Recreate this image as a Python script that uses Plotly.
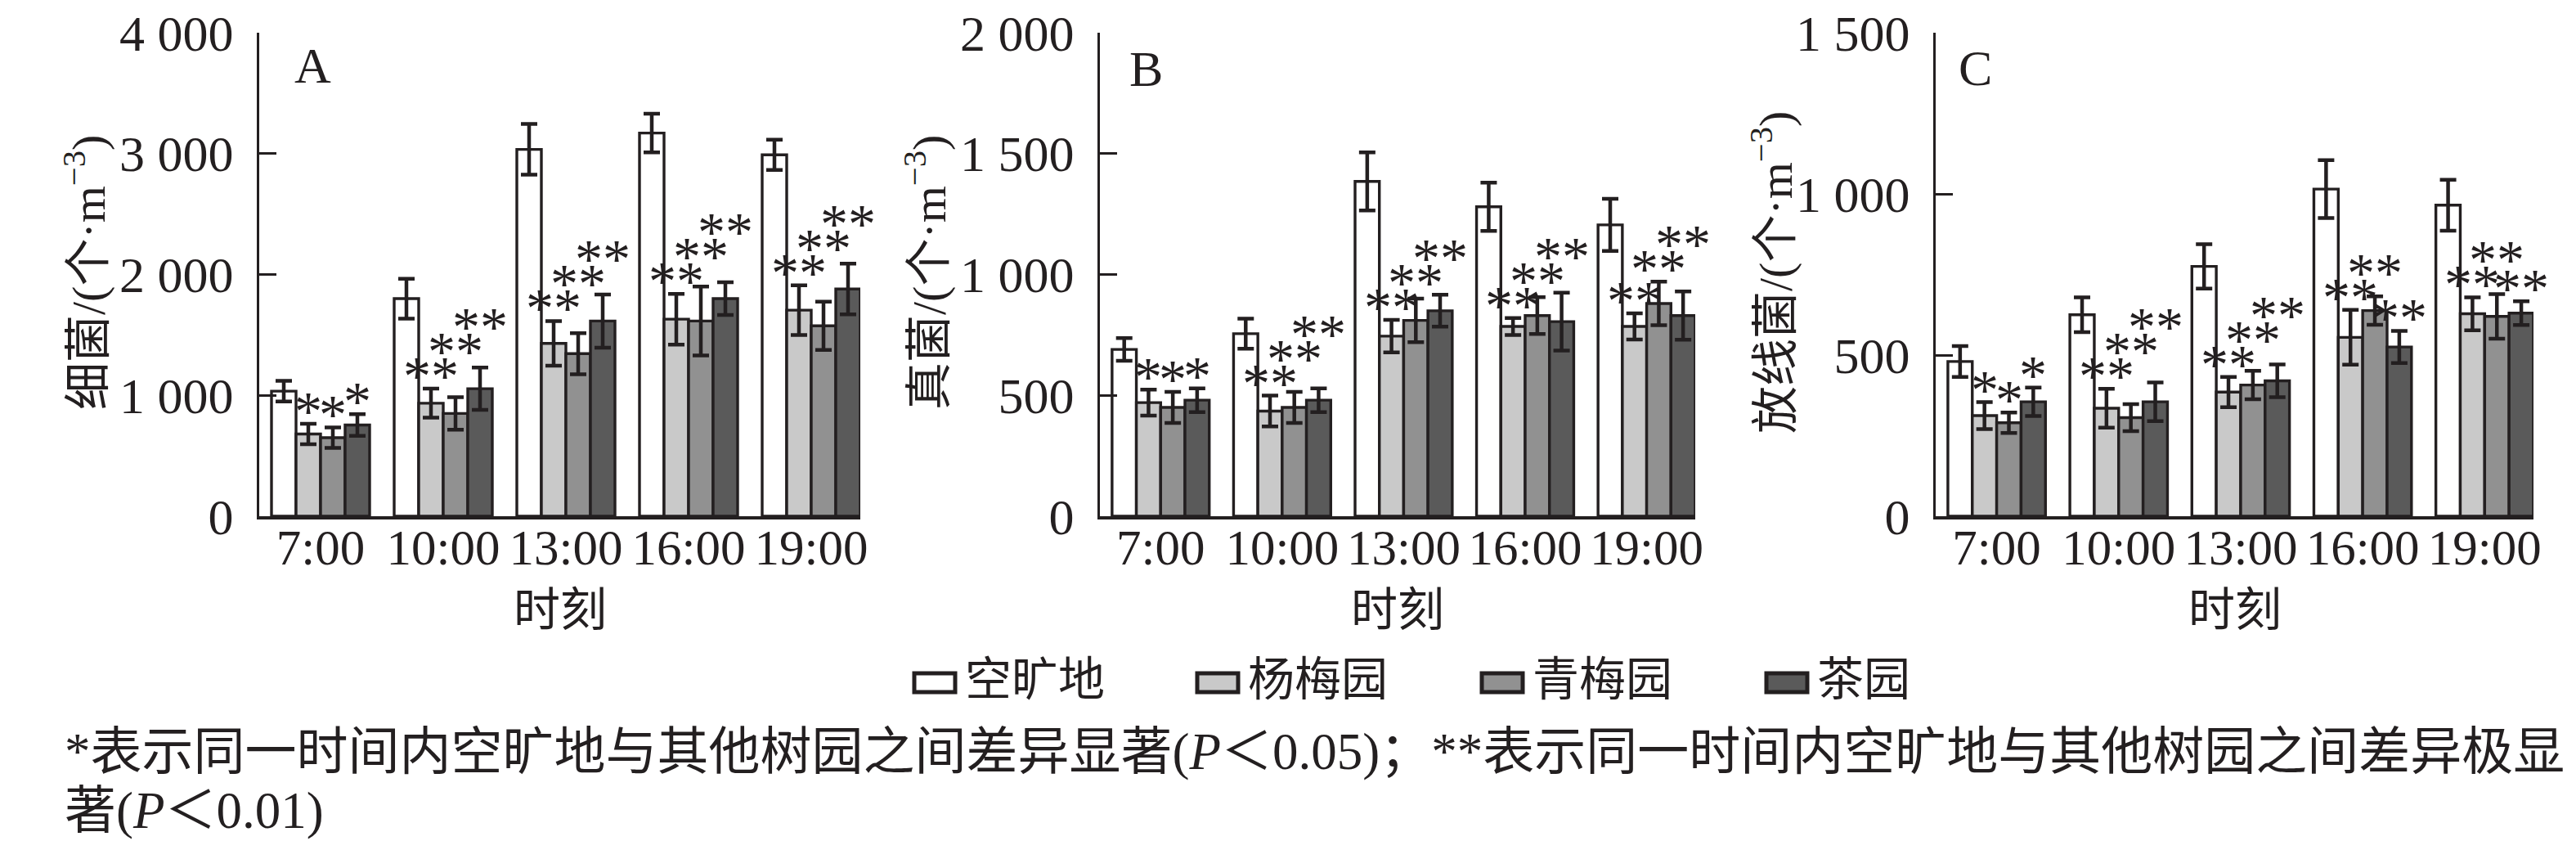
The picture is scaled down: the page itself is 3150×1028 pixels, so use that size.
import plotly.graph_objects as go

# ---- data ----
times = ["7:00", "10:00", "13:00", "16:00", "19:00"]
sites = ["空旷地", "杨梅园", "青梅园", "茶园"]

# A 细菌
open_a = [1035, 1800, 3035, 3170, 2990]
open_a_err = [85, 165, 210, 160, 125]
yangmei_a = [680, 935, 1430, 1630, 1705]
yangmei_a_err = [85, 120, 185, 210, 205]
qingmei_a = [650, 850, 1345, 1615, 1575]
qingmei_a_err = [85, 135, 170, 285, 200]
cha_a = [755, 1055, 1615, 1800, 1880]
cha_a_err = [90, 175, 220, 135, 210]
sig_a = [["*", "*", "*"], ["**", "**", "**"], ["**", "**", "**"], ["**", "**", "**"], ["**", "**", "**"]]

# B 真菌
open_b = [690, 755, 1385, 1280, 1205]
open_b_err = [47, 62, 120, 100, 108]
yangmei_b = [470, 435, 745, 785, 785]
yangmei_b_err = [54, 64, 67, 35, 54]
qingmei_b = [450, 450, 810, 830, 880]
qingmei_b_err = [64, 64, 90, 76, 90]
cha_b = [480, 480, 850, 805, 830]
cha_b_err = [49, 49, 66, 120, 100]
sig_b = [["*", "*", "*"], ["**", "**", "**"], ["**", "**", "**"], ["**", "**", "**"], ["**", "**", "**"]]

# C 放线菌
open_c = [480, 625, 775, 1015, 965]
open_c_err = [48, 54, 69, 90, 79]
yangmei_c = [312, 335, 385, 555, 628]
yangmei_c_err = [42, 60, 47, 85, 51]
qingmei_c = [290, 306, 407, 638, 620]
qingmei_c_err = [32, 42, 44, 44, 69]
cha_c = [355, 355, 420, 525, 630]
cha_c_err = [44, 60, 51, 50, 37]
sig_c = [["*", "*", "*"], ["**", "**", "**"], ["**", "**", "**"], ["**", "**", "**"], ["**", "**", "**"]]

y_max = [4000, 2000, 1500]
y_ticks = [[0, 1000, 2000, 3000, 4000], [0, 500, 1000, 1500, 2000], [0, 500, 1000, 1500]]
y_ticktext = [["0", "1 000", "2 000", "3 000", "4 000"],
              ["0", "500", "1 000", "1 500", "2 000"],
              ["0", "500", "1 000", "1 500"]]
y_titles = ["细菌/(个·m<sup>−3</sup>)", "真菌/(个·m<sup>−3</sup>)", "放线菌/(个·m<sup>−3</sup>)"]
panel_letters = ["A", "B", "C"]

colors = ["#ffffff", "#c9c9c9", "#919191", "#5a5a5a"]
INK = "#231f20"
FONT = "Liberation Serif, Times New Roman, Noto Sans CJK SC"

W, H = 3150, 1028
x_domains = [(309, 1044), (1337, 2065), (2359, 3090)]
y_dom = (1 - 623 / H, 1 - 32 / H)
plot_h = 591
BARGAP = 0.2

panels = [
    ([open_a, yangmei_a, qingmei_a, cha_a], [open_a_err, yangmei_a_err, qingmei_a_err, cha_a_err], sig_a),
    ([open_b, yangmei_b, qingmei_b, cha_b], [open_b_err, yangmei_b_err, qingmei_b_err, cha_b_err], sig_b),
    ([open_c, yangmei_c, qingmei_c, cha_c], [open_c_err, yangmei_c_err, qingmei_c_err, cha_c_err], sig_c),
]

fig = go.Figure()
annotations = []

for p, (vals, errs, sigs) in enumerate(panels):
    xa = "x" if p == 0 else f"x{p + 1}"
    ya = "y" if p == 0 else f"y{p + 1}"
    for s in range(4):
        fig.add_trace(go.Bar(
            x=times, y=vals[s], name=sites[s], xaxis=xa, yaxis=ya,
            marker=dict(color=colors[s], line=dict(color=INK, width=3.4)),
            error_y=dict(type="data", array=errs[s], color=INK, thickness=4.5, width=10),
            showlegend=False,
        ))

    # significance marks, stacked upward when neighbouring "**" would collide
    k = plot_h / y_max[p]
    bw = (1 - BARGAP) / 4
    for i in range(len(times)):
        prev_h, prev_s = None, None
        for j in range(3):
            top = vals[j + 1][i] + errs[j + 1][i]
            h = top * k + 30
            mark = sigs[i][j]
            if prev_h is not None and abs(h - prev_h) < 30 and ("**" in (mark, prev_s)):
                h = prev_h + 30
            prev_h, prev_s = h, mark
            annotations.append(dict(
                x=i - (1 - BARGAP) / 2 + bw * (j + 1.5), y=(h - 14) / k,
                xref=xa, yref=ya, text=mark, showarrow=False,
                xanchor="center", yanchor="middle",
                font=dict(family=FONT, size=68, color=INK),
            ))

    x0, x1 = x_domains[p]
    xkey = "xaxis" if p == 0 else f"xaxis{p + 1}"
    ykey = "yaxis" if p == 0 else f"yaxis{p + 1}"
    fig.layout[xkey] = dict(
        domain=[x0 / W, x1 / W], anchor=ya, range=[-0.5, 4.4], automargin=False,
        showline=True, linecolor=INK, linewidth=4, ticks="", showgrid=False,
        tickfont=dict(family=FONT, size=61, color=INK), ticklabelstandoff=-18,
    )
    fig.layout[ykey] = dict(
        domain=list(y_dom), anchor=xa, range=[0, y_max[p]], automargin=False,
        tickvals=y_ticks[p], ticktext=y_ticktext[p], ticklabeloverflow="allow",
        showline=True, linecolor=INK, linewidth=3, ticks="inside", ticklen=21,
        tickwidth=3, tickcolor=INK, showgrid=False, zeroline=False,
        tickfont=dict(family=FONT, size=62, color=INK), ticklabelstandoff=16,
    )

# axis titles and panel letters
y_title_x = [96, 1124, 2159]
letter_pos = [(374, 72), (1393, 76), (2407, 75)]
for p in range(3):
    x0, x1 = x_domains[p]
    annotations.append(dict(
        x=y_title_x[p] / W, y=1 - 325 / H, xref="paper", yref="paper",
        text=y_titles[p], textangle=-90, showarrow=False,
        xanchor="center", yanchor="middle",
        font=dict(family=FONT, size=58, color=INK),
    ))
    annotations.append(dict(
        x=(x0 + x1) / 2 / W, y=1 - 737 / H, xref="paper", yref="paper",
        text="时刻", showarrow=False, xanchor="center", yanchor="middle",
        font=dict(family=FONT, size=57, color=INK),
    ))
    lx, ly = letter_pos[p]
    annotations.append(dict(
        x=lx / W, y=1 - ly / H, xref="paper", yref="paper",
        text=panel_letters[p], showarrow=False, xanchor="center", yanchor="middle",
        font=dict(family=FONT, size=62, color=INK),
    ))

# legend drawn by hand (wide boxes like the original)
shapes = []
legend_x = [1110, 1456, 1804, 2152]
for s in range(4):
    bx = legend_x[s]
    shapes.append(dict(
        type="rect", xref="paper", yref="paper",
        x0=bx / W, x1=(bx + 50) / W, y0=1 - 838 / H, y1=1 - 815 / H,
        fillcolor=colors[s], line=dict(color=INK, width=5),
    ))
    annotations.append(dict(
        x=(bx + 60) / W, y=1 - 822 / H, xref="paper", yref="paper",
        text=sites[s], showarrow=False, xanchor="left", yanchor="middle",
        font=dict(family=FONT, size=57, color=INK),
    ))

# footnote
note_1 = "*表示同一时间内空旷地与其他树园之间差异显著(<i>P</i>＜0.05)；**表示同一时间内空旷地与其他树园之间差异极显"
note_2 = "著(<i>P</i>＜0.01)"
for txt, yy in [(note_1, 911), (note_2, 983)]:
    annotations.append(dict(
        x=69 / W, y=1 - yy / H, xref="paper", yref="paper",
        text=txt, showarrow=False, xanchor="left", yanchor="middle",
        font=dict(family=FONT, size=63, color=INK),
    ))

fig.update_layout(
    width=W, height=H, margin=dict(l=0, r=0, t=0, b=0, autoexpand=False),
    paper_bgcolor="white", plot_bgcolor="white",
    barmode="group", bargap=BARGAP, bargroupgap=0,
    annotations=annotations, shapes=shapes, showlegend=False,
)

fig.write_html("out.html")
